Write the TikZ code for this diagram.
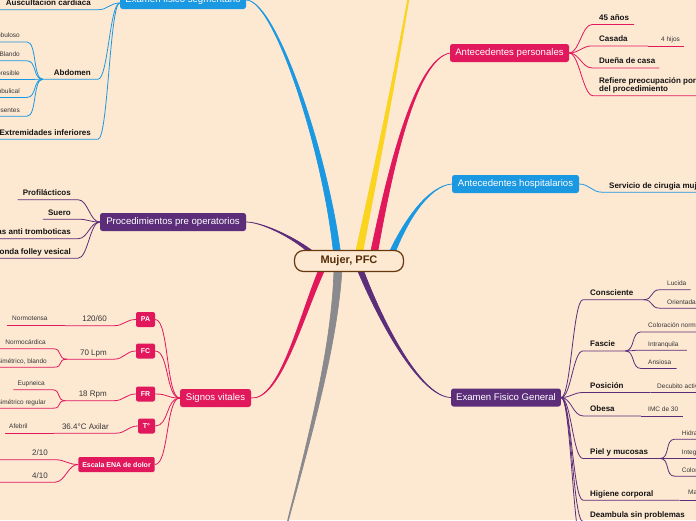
\documentclass[tikz,border=0pt]{standalone}
\usepackage{fontspec}
\setmainfont{Liberation Sans}
\usetikzlibrary{positioning,backgrounds}
\definecolor{PaperPeach}{RGB}{253,232,210}
\definecolor{MapBlue}{RGB}{27,152,226}
\definecolor{MapPink}{RGB}{226,24,92}
\definecolor{MapPurple}{RGB}{92,46,122}
\definecolor{MapYellow}{RGB}{250,212,30}
\definecolor{MapGray}{RGB}{138,138,142}
\definecolor{CoreBrown}{RGB}{102,56,14}
\definecolor{CoreText}{RGB}{84,44,8}
\definecolor{LabelBlack}{RGB}{20,20,20}
\definecolor{LeafText}{RGB}{55,55,55}
\tikzset{
  core/.style={draw=CoreBrown,line width=1.2pt,fill=PaperPeach,rounded corners=9pt,minimum width=109pt,minimum height=21pt,font=\fontsize{11}{13}\selectfont\bfseries,text=CoreText},
  topic/.style={rounded corners=2.5pt,minimum height=18pt,inner xsep=5pt,inner ysep=2pt,font=\fontsize{9.6}{11}\selectfont,text=white},
  tag/.style={fill=MapPink,rounded corners=2pt,minimum height=15pt,minimum width=19pt,inner xsep=3pt,inner ysep=1pt,font=\fontsize{7}{8}\selectfont\bfseries,text=white},
  sub/.style={inner sep=0pt,text depth=0pt,font=\fontsize{8}{8.4}\selectfont\bfseries,text=LabelBlack},
  value/.style={inner sep=0pt,text depth=0pt,font=\fontsize{8}{9}\selectfont,text=LeafText},
  leaf/.style={inner sep=0pt,text depth=0pt,font=\fontsize{6.5}{7.5}\selectfont,text=LeafText},
  twig/.style={line width=0.8pt}
}
% tapered main branch: colour, half width, root, control 1, control 2, end
\newcommand{\mainbranch}[6]{%
  \filldraw[#1,line width=0.7pt] ([xshift=-#2]#3) .. controls ([xshift=-0.6*#2]#4) and ([xshift=-0.2*#2]#5) .. (#6)
    .. controls ([xshift=0.2*#2]#5) and ([xshift=0.6*#2]#4) .. ([xshift=#2]#3) -- cycle;}
% thin child line with underline, to the right / to the left
\newcommand{\twigR}[4]{\draw[twig,#1] (#2) .. controls +(10,0) and +(-10,0) .. ([xshift=-7pt,yshift=-4pt]#3.south west) -- ([xshift=#4,yshift=-4pt]#3.south east);}
\newcommand{\twigL}[4]{\draw[twig,#1] (#2) .. controls +(-10,0) and +(10,0) .. ([xshift=7pt,yshift=-4pt]#3.south east) -- ([xshift=-#4,yshift=-4pt]#3.south west);}

\begin{document}
\begin{tikzpicture}[x=1pt,y=-1pt]
\useasboundingbox (0,0) rectangle (696,520);
\clip (0,0) rectangle (696,520);

% central topic and main topics
\node[core] (core) at (349,261) {Mujer, PFC};
\node[topic,fill=MapBlue,minimum width=126pt] (efs) at (183,0) {Examen fisico segmentario};
\node[topic,fill=MapPink,minimum width=119pt] (ap) at (509.5,53) {Antecedentes personales};
\node[topic,fill=MapBlue,minimum width=127pt] (ah) at (515.5,184) {Antecedentes hospitalarios};
\node[topic,fill=MapPurple,minimum width=109pt] (efg) at (506,397.5) {Examen Fisico General};
\node[topic,fill=MapPink,minimum width=71pt] (sv) at (215.5,398) {Signos vitales};
\node[topic,fill=MapPurple,minimum width=146pt] (ppo) at (173,222) {Procedimientos pre operatorios};

% branch roots on the core
\coordinate (r-efs) at ([xshift=-12pt,yshift=-3pt]core.north);
\coordinate (r-yel) at ([xshift=10pt,yshift=-3pt]core.north);
\coordinate (r-ap) at ([xshift=25pt,yshift=-3pt]core.north);
\coordinate (r-ah) at ([xshift=43pt,yshift=-3pt]core.north);
\coordinate (r-ppo) at ([xshift=-37pt,yshift=-3pt]core.north);
\coordinate (r-efg) at ([xshift=11pt,yshift=3pt]core.south);
\coordinate (r-gray) at ([xshift=-11pt,yshift=3pt]core.south);
\coordinate (r-sv) at ([xshift=-27pt,yshift=3pt]core.south);
\coordinate (yel-end) at (421,-80);
\coordinate (gray-end) at (278,560);

\begin{scope}[on background layer]
  \clip (0,0) rectangle (696,520);
  \fill[PaperPeach] (0,0) rectangle (696,520);
  \mainbranch{MapBlue}{3.5pt}{r-efs}{325,150}{275,0}{efs.east}
  \mainbranch{MapYellow}{3.5pt}{r-yel}{378,160}{405,30}{yel-end}
  \mainbranch{MapPink}{3.5pt}{r-ap}{390,170}{415,60}{ap.west}
  \mainbranch{MapBlue}{3pt}{r-ah}{405,222}{428,186}{ah.west}
  \mainbranch{MapPurple}{3pt}{r-efg}{380,320}{420,397}{efg.west}
  \mainbranch{MapGray}{4pt}{r-gray}{334,360}{300,470}{gray-end}
  \mainbranch{MapPink}{3pt}{r-sv}{300,320}{280,400}{sv.east}
  \mainbranch{MapPurple}{3pt}{r-ppo}{295,238}{262,222}{ppo.east}
\end{scope}

% Examen fisico segmentario
\coordinate (efs-in) at ([yshift=-3pt]efs.west);
\node[sub,anchor=base east] (ausc) at (91,5.5) {Auscultacion cardiaca};
\node[sub,anchor=base east] (abd) at (91,75) {Abdomen};
\node[sub,anchor=base east] (ext) at (91,135) {Extremidades inferiores};
\twigL{MapBlue}{efs-in}{ausc}{12pt}
\twigL{MapBlue}{efs-in}{abd}{11pt}
\twigL{MapBlue}{efs-in}{ext}{12pt}
\coordinate (abd-hub) at ([xshift=-11pt,yshift=-4pt]abd.south west);
\node[leaf,anchor=base east] (abd1) at (20,37.8) {Globuloso};
\node[leaf,anchor=base east] (abd2) at (20,56.6) {Blando};
\node[leaf,anchor=base east] (abd3) at (20,75.3) {Depresible};
\node[leaf,anchor=base east] (abd4) at (20,93.2) {Cicatriz umbulical};
\node[leaf,anchor=base east] (abd5) at (20,112) {Ruidos presentes};
\foreach \i in {1,...,5} {\twigL{MapBlue}{abd-hub}{abd\i}{30pt}}

% Procedimientos pre operatorios
\node[sub,anchor=base east] (prof) at (71,195.5) {Profilácticos};
\node[sub,anchor=base east] (suero) at (71,215) {Suero};
\node[sub,anchor=base east] (medias) at (71,234.5) {Medias anti tromboticas};
\node[sub,anchor=base east] (sonda) at (71,254) {Sonda folley vesical};
\foreach \n/\e in {prof/5pt,suero/5pt,medias/20pt,sonda/20pt} {\twigL{MapPurple}{ppo.west}{\n}{\e}}

% Signos vitales
\node[tag] (pa) at (145.5,319.5) {PA};
\node[tag] (fc) at (145.5,351) {FC};
\node[tag] (fr) at (145.5,394) {FR};
\node[tag,minimum width=17pt] (temp) at (146.5,426) {T°};
\node[tag,inner xsep=4pt] (ena) at (116.5,464.5) {Escala ENA de dolor};
\foreach \t in {pa,fc,fr,temp,ena}
  \draw[twig,MapPink] (sv.west) .. controls +(-14,0) and +(14,0) .. (\t.east);

\node[value,anchor=base east] (bp) at (107,321.5) {120/60};
\twigL{MapPink}{pa.west}{bp}{17pt}
\coordinate (bp-end) at ([xshift=-17pt,yshift=-4pt]bp.south west);
\node[leaf,anchor=base west] (normo) at (12,320.5) {Normotensa};
\draw[twig,MapPink] (bp-end) -- ([xshift=-5pt]normo.west |- bp-end);

\node[value,anchor=base east] (hr) at (107,355) {70 Lpm};
\twigL{MapPink}{fc.west}{hr}{13pt}
\coordinate (hr-hub) at ([xshift=-13pt,yshift=-4pt]hr.south west);
\node[leaf,anchor=base east] (hr1) at (46,344.5) {Normocárdica};
\node[leaf,anchor=base east] (hr2) at (47,363) {Simétrico, blando};
\twigL{MapPink}{hr-hub}{hr1}{20pt}
\twigL{MapPink}{hr-hub}{hr2}{20pt}

\node[value,anchor=base east] (rr) at (107,396.5) {18 Rpm};
\twigL{MapPink}{fr.west}{rr}{13pt}
\coordinate (rr-hub) at ([xshift=-13pt,yshift=-4pt]rr.south west);
\node[leaf,anchor=base east] (rr1) at (45,385.5) {Eupneica};
\node[leaf,anchor=base east] (rr2) at (46,404) {Simétrico regular};
\twigL{MapPink}{rr-hub}{rr1}{4pt}
\twigL{MapPink}{rr-hub}{rr2}{20pt}

\node[value,anchor=base east] (tax) at (109,429) {36.4°C Axilar};
\twigL{MapPink}{temp.west}{tax}{8pt}
\coordinate (tax-end) at ([xshift=-8pt,yshift=-4pt]tax.south west);
\node[leaf,anchor=base west] (afeb) at (9,428.5) {Afebril};
\draw[twig,MapPink] (tax-end) -- ([xshift=-4pt]afeb.west |- tax-end);

\node[value,anchor=base east] (ena1) at (48,455.5) {2/10};
\node[value,anchor=base east] (ena2) at (48,478) {4/10};
\twigL{MapPink}{ena.west}{ena1}{40pt}
\twigL{MapPink}{ena.west}{ena2}{40pt}

% Antecedentes personales
\node[sub,anchor=base west] (age) at (599,20.3) {45 años};
\node[sub,anchor=base west] (casada) at (599,41.7) {Casada};
\node[sub,anchor=base west] (duena) at (599,63.7) {Dueña de casa};
\node[sub,anchor=north west,align=left] (refiere) at (599,77.5) {Refiere preocupación por\\del procedimiento};
\twigR{MapPink}{ap.east}{age}{5pt}
\twigR{MapPink}{ap.east}{casada}{20pt}
\coordinate (casada-end) at ([xshift=20pt,yshift=-4pt]casada.south east);
\node[leaf,anchor=base west] (hijos) at (661,41.5) {4 hijos};
\draw[twig,MapPink] (casada-end) -- ([xshift=4pt]hijos.east |- casada-end);
\twigR{MapPink}{ap.east}{duena}{4pt}
\coordinate (refiere-ul) at ([xshift=-6pt,yshift=-18.2pt]refiere.north west);
\draw[twig,MapPink] (ap.east) .. controls +(10,0) and +(-10,0) .. (refiere-ul) -- ++(120,0);

% Antecedentes hospitalarios
\node[sub,anchor=base west] (servicio) at (609,188) {Servicio de cirugia mujeres};
\twigR{MapBlue}{ah.east}{servicio}{20pt}

% Examen Fisico General
\node[sub,anchor=base west] (consc) at (590,295.5) {Consciente};
\node[sub,anchor=base west] (fascie) at (590,346.7) {Fascie};
\node[sub,anchor=base west] (posic) at (590,388.3) {Posición};
\node[sub,anchor=base west] (obesa) at (590,411.7) {Obesa};
\node[sub,anchor=base west] (piel) at (590,454.3) {Piel y mucosas};
\node[sub,anchor=base west] (higiene) at (590,496) {Higiene corporal};
\node[sub,anchor=base west] (deamb) at (590,517.3) {Deambula sin problemas};
\coordinate (efg-more) at (583,548);
\foreach \n/\e in {consc/10pt,fascie/10pt,posic/27pt,obesa/26pt,piel/12pt,higiene/26pt,deamb/20pt}
  {\twigR{MapPurple}{efg.east}{\n}{\e}}
\draw[twig,MapPurple] (efg.east) .. controls +(10,0) and +(-10,0) .. (efg-more) -- ++(60,0);

\coordinate (consc-hub) at ([xshift=10pt,yshift=-4pt]consc.south east);
\node[leaf,anchor=base west] (lucida) at (667,285.5) {Lucida};
\node[leaf,anchor=base west] (orient) at (667,304) {Orientada};
\twigR{MapPurple}{consc-hub}{lucida}{4pt}
\twigR{MapPurple}{consc-hub}{orient}{20pt}

\coordinate (fascie-hub) at ([xshift=10pt,yshift=-4pt]fascie.south east);
\node[leaf,anchor=base west] (fas1) at (648,327.7) {Coloración normal};
\node[leaf,anchor=base west] (fas2) at (648,346) {Intranquila};
\node[leaf,anchor=base west] (fas3) at (648,364.3) {Ansiosa};
\twigR{MapPurple}{fascie-hub}{fas1}{20pt}
\twigR{MapPurple}{fascie-hub}{fas2}{8pt}
\twigR{MapPurple}{fascie-hub}{fas3}{5pt}

\coordinate (posic-end) at ([xshift=27pt,yshift=-4pt]posic.south east);
\node[leaf,anchor=base west] (decub) at (657,388) {Decubito activo};
\draw[twig,MapPurple] (posic-end) -- ([xshift=20pt]decub.east |- posic-end);

\coordinate (obesa-end) at ([xshift=26pt,yshift=-4pt]obesa.south east);
\node[leaf,anchor=base west] (imc) at (648,411) {IMC de 30};
\draw[twig,MapPurple] (obesa-end) -- ([xshift=5pt]imc.east |- obesa-end);

\coordinate (piel-hub) at ([xshift=12pt,yshift=-4pt]piel.south east);
\node[leaf,anchor=base west] (piel1) at (681.7,435) {Hidratada};
\node[leaf,anchor=base west] (piel2) at (681.7,454.3) {Integra};
\node[leaf,anchor=base west] (piel3) at (681.7,472) {Coloración rosada};
\foreach \i in {1,2,3} {\twigR{MapPurple}{piel-hub}{piel\i}{20pt}}

\coordinate (higiene-end) at ([xshift=26pt,yshift=-4pt]higiene.south east);
\node[leaf,anchor=base west] (hig1) at (688,494) {Mantiene higiene};
\draw[twig,MapPurple] (higiene-end) -- ([xshift=5pt]hig1.east |- higiene-end);
\end{tikzpicture}
\end{document}
